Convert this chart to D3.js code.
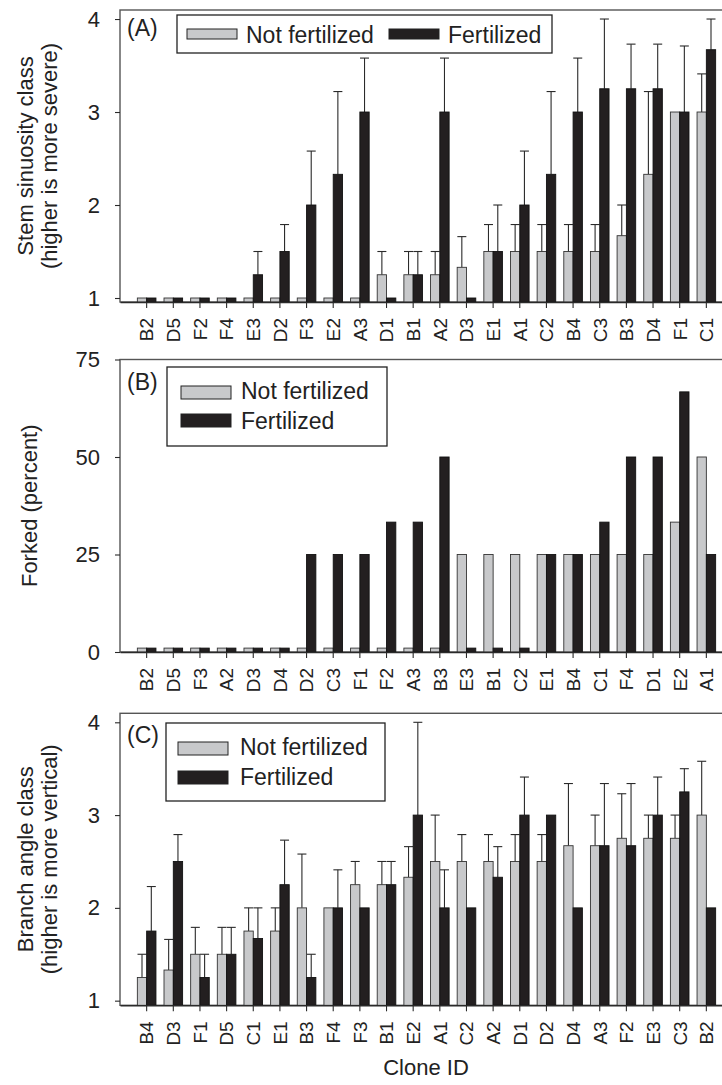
<!DOCTYPE html>
<html>
<head>
<meta charset="utf-8">
<script src="https://cdn.jsdelivr.net/npm/d3@7"></script>
<style>
  body { margin: 0; background: #fff; }
  svg { display: block; font-family: "Liberation Sans", Arial, sans-serif; }
</style>
</head>
<body>
<div id="container"></div>
<script>
// (A) stem sinuosity class, mean and SE
const clonesA = ['B2','D5','F2','F4','E3','D2','F3','E2','A3','D1','B1','A2','D3','E1','A1','C2','B4','C3','B3','D4','F1','C1'];
const sinuosityNF = [1,1,1,1,1,1,1,1,1,1.25,1.25,1.25,1.33,1.5,1.5,1.5,1.5,1.5,1.67,2.33,3,3];
const sinuosityNFse = [0,0,0,0,0,0,0,0,0,0.25,0.25,0.25,0.33,0.29,0.29,0.29,0.29,0.29,0.33,0.89,0,0.41];
const sinuosityF = [1,1,1,1,1.25,1.5,2,2.33,3,1,1.25,3,1,1.5,2,2.33,3,3.25,3.25,3.25,3,3.67];
const sinuosityFse = [0,0,0,0,0.25,0.29,0.58,0.89,0.58,0,0.25,0.58,0,0.5,0.58,0.89,0.58,0.75,0.48,0.48,0.71,0.33];

// (B) forked, percent (zeros are drawn as a small stub)
const clonesB = ['B2','D5','F3','A2','D3','D4','D2','C3','F1','F2','A3','B3','E3','B1','C2','E1','B4','C1','F4','D1','E2','A1'];
const forkedNF = [1,1,1,1,1,1,1,1,1,1,1,1,25,25,25,25,25,25,25,25,33.3,50];
const forkedF = [1,1,1,1,1,1,25,25,25,33.3,33.3,50,1,1,1,25,25,33.3,50,50,66.7,25];

// (C) branch angle class, mean and SE
const clonesC = ['B4','D3','F1','D5','C1','E1','B3','F4','F3','B1','E2','A1','C2','A2','D1','D2','D4','A3','F2','E3','C3','B2'];
const angleNF = [1.25,1.33,1.5,1.5,1.75,1.75,2,2,2.25,2.25,2.33,2.5,2.5,2.5,2.5,2.5,2.67,2.67,2.75,2.75,2.75,3];
const angleNFse = [0.25,0.33,0.29,0.29,0.25,0.25,0.58,0,0.25,0.25,0.33,0.5,0.29,0.29,0.29,0.29,0.67,0.33,0.48,0.25,0.25,0.58];
const angleF = [1.75,2.5,1.25,1.5,1.67,2.25,1.25,2,2,2.25,3,2,2,2.33,3,3,2,2.67,2.67,3,3.25,2];
const angleFse = [0.48,0.29,0.25,0.29,0.33,0.48,0.25,0.41,0,0.25,1.0,0.41,0,0.33,0.41,0,0,0.67,0.67,0.41,0.25,0];

const seriesNames = ['Not fertilized', 'Fertilized'];

const width = 722, height = 1085;
const left = 120, right = 733;
const barW = 9.3;
const greyFill = '#c8c9cb', blackFill = '#231f20', ink = '#2a2a2a';

const svg = d3.select('#container').append('svg')
    .attr('width', width)
    .attr('height', height);

svg.append('rect').attr('width', width).attr('height', height).attr('fill', '#fff');

function drawPanel(p) {
    const x = d3.scaleBand()
        .domain(p.clones)
        .range([left, right])
        .paddingInner(0)
        .paddingOuter(0.5);
    const y = d3.scaleLinear()
        .domain(p.domain)
        .range([p.bottom, p.top]);
    const cx = c => x(c) + x.bandwidth() / 2;

    const rows = p.clones.map((c, i) => ({
        clone: c,
        nf: p.nf[i], nfse: p.nfse ? p.nfse[i] : 0,
        f: p.f[i], fse: p.fse ? p.fse[i] : 0
    }));

    const g = svg.append('g');

    // frame
    g.append('rect')
        .attr('x', left)
        .attr('y', p.top)
        .attr('width', right - left)
        .attr('height', p.bottom - p.top)
        .attr('fill', 'none')
        .attr('stroke', '#555')
        .attr('stroke-width', 1.4);

    // error bars drawn first so the bars sit on top of the stems
    const err = [];
    rows.forEach(d => {
        if (d.nfse > 0) err.push({ xc: cx(d.clone) - barW / 2, v: d.nf, se: d.nfse });
        if (d.fse > 0) err.push({ xc: cx(d.clone) + barW / 2, v: d.f, se: d.fse });
    });
    const eg = g.selectAll('.err').data(err).join('g')
        .attr('stroke', ink)
        .attr('stroke-width', 1.1);
    eg.append('line')
        .attr('x1', d => d.xc).attr('x2', d => d.xc)
        .attr('y1', d => y(d.v)).attr('y2', d => y(d.v + d.se));
    eg.append('line')
        .attr('x1', d => d.xc - 4.5).attr('x2', d => d.xc + 4.5)
        .attr('y1', d => y(d.v + d.se)).attr('y2', d => y(d.v + d.se));

    g.selectAll('.nf').data(rows).join('rect')
        .attr('x', d => cx(d.clone) - barW)
        .attr('y', d => y(d.nf))
        .attr('width', barW)
        .attr('height', d => p.bottom - y(d.nf))
        .attr('fill', greyFill)
        .attr('stroke', '#333')
        .attr('stroke-width', 0.9);

    g.selectAll('.f').data(rows).join('rect')
        .attr('x', d => cx(d.clone))
        .attr('y', d => y(d.f))
        .attr('width', barW)
        .attr('height', d => p.bottom - y(d.f))
        .attr('fill', blackFill)
        .attr('stroke', '#111')
        .attr('stroke-width', 0.9);

    // y axis
    const ya = g.append('g')
        .attr('transform', `translate(${left},0)`)
        .call(d3.axisLeft(y).tickValues(p.ticks).tickFormat(d3.format('d')).tickSize(5).tickPadding(15));
    ya.select('.domain').remove();
    ya.selectAll('line').attr('stroke', ink).attr('stroke-width', 1.1);
    ya.selectAll('text')
        .attr('font-size', 22)
        .attr('fill', '#222')
        .attr('font-family', '"Liberation Sans", Arial, sans-serif');

    // x axis
    const xa = g.append('g')
        .attr('transform', `translate(0,${p.bottom})`)
        .call(d3.axisBottom(x).tickSize(6).tickSizeOuter(0));
    xa.select('.domain').attr('stroke', ink).attr('stroke-width', 1.4);
    xa.selectAll('line').attr('stroke', ink).attr('stroke-width', 1.1);
    xa.selectAll('text')
        .attr('font-size', 19)
        .attr('fill', '#222')
        .attr('font-family', '"Liberation Sans", Arial, sans-serif')
        .attr('transform', 'rotate(-90)')
        .attr('text-anchor', 'end')
        .attr('x', -16)
        .attr('y', 0)
        .attr('dy', '0.36em');

    // y title
    p.title.forEach((t, i) => {
        g.append('text')
            .attr('transform', `translate(${p.titleX[i]},${(p.top + p.bottom) / 2}) rotate(-90)`)
            .attr('text-anchor', 'middle')
            .attr('font-size', 22)
            .attr('fill', '#222')
            .text(t);
    });

    // panel letter
    g.append('text')
        .attr('x', 127)
        .attr('y', p.top + p.letterDy)
        .attr('font-size', 23)
        .attr('fill', '#222')
        .text(p.letter);

    // legend
    const L = p.legend;
    g.append('rect')
        .attr('x', L.x).attr('y', L.y)
        .attr('width', L.w).attr('height', L.h)
        .attr('fill', '#fff')
        .attr('stroke', '#222')
        .attr('stroke-width', 1.3);
    seriesNames.forEach((name, i) => {
        const it = L.items[i];
        g.append('rect')
            .attr('x', it.sx).attr('y', it.sy)
            .attr('width', 50).attr('height', it.sh)
            .attr('fill', i === 0 ? greyFill : blackFill)
            .attr('stroke', '#222')
            .attr('stroke-width', 1);
        g.append('text')
            .attr('x', it.tx).attr('y', it.ty)
            .attr('font-size', 23)
            .attr('fill', '#222')
            .text(name);
    });
}

drawPanel({
    letter: '(A)', letterDy: 26,
    clones: clonesA, nf: sinuosityNF, nfse: sinuosityNFse, f: sinuosityF, fse: sinuosityFse,
    domain: [0.957, 4.097], top: 10, bottom: 302, ticks: [1, 2, 3, 4],
    title: ['Stem sinuosity class', '(higher is more severe)'], titleX: [33, 57],
    legend: {
        x: 177, y: 15, w: 375, h: 38,
        items: [
            { sx: 187, sy: 29, sh: 10, tx: 246, ty: 43 },
            { sx: 389, sy: 29, sh: 10, tx: 448, ty: 43 }
        ]
    }
});

drawPanel({
    letter: '(B)', letterDy: 30,
    clones: clonesB, nf: forkedNF, f: forkedF,
    domain: [0, 75], top: 359.5, bottom: 652, ticks: [0, 25, 50, 75],
    title: ['Forked (percent)'], titleX: [37],
    legend: {
        x: 167, y: 367, w: 220, h: 79,
        items: [
            { sx: 181, sy: 386, sh: 13, tx: 241, ty: 399 },
            { sx: 181, sy: 414, sh: 13, tx: 241, ty: 429 }
        ]
    }
});

drawPanel({
    letter: '(C)', letterDy: 30,
    clones: clonesC, nf: angleNF, nfse: angleNFse, f: angleF, fse: angleFse,
    domain: [0.95, 4.097], top: 713.3, bottom: 1005.3, ticks: [1, 2, 3, 4],
    title: ['Branch angle class', '(higher is more vertical)'], titleX: [33, 57],
    legend: {
        x: 166, y: 723, w: 219, h: 78,
        items: [
            { sx: 178, sy: 742, sh: 13, tx: 240, ty: 755 },
            { sx: 178, sy: 771, sh: 13, tx: 240, ty: 785 }
        ]
    }
});

svg.append('text')
    .attr('x', 426)
    .attr('y', 1075)
    .attr('text-anchor', 'middle')
    .attr('font-size', 22)
    .attr('fill', '#222')
    .text('Clone ID');
</script>
</body>
</html>
